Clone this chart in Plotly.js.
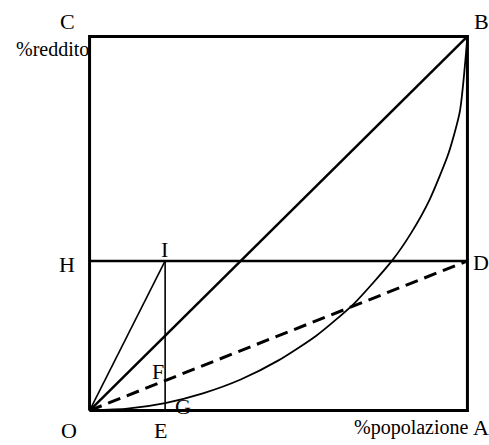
<!DOCTYPE html>
<html>
<head>
<meta charset="utf-8">
<script src="https://cdn.plot.ly/plotly-3.0.1.min.js"></script>
<style>html,body{margin:0;padding:0;background:#fff;}#chart{width:489px;height:445px;}</style>
</head>
<body>
<div id="chart"></div>
<script>
// Frame (square O-A-B-C)
const frameX = [0, 1, 1, 0, 0];
const frameY = [0, 0, 1, 1, 0];
// Line of equality O-B
const diagX = [0, 1];
const diagY = [0, 1];
// Horizontal line H-D
const hdX = [0, 1];
const hdY = [0.4, 0.4];
// Segment O-I
const oiX = [0, 0.2];
const oiY = [0, 0.4];
// Vertical segment E-I
const eiX = [0.2, 0.2];
const eiY = [0, 0.4];
// Dashed line O-D
const odX = [0, 1];
const odY = [0, 0.4];
// Lorenz curve O-G-B
const curveX = [0, 0.1, 0.2, 0.3, 0.4, 0.5, 0.6, 0.7, 0.8, 0.85, 0.9, 0.95, 0.98, 1];
const curveY = [0, 0.005, 0.02, 0.046, 0.083, 0.134, 0.2, 0.286, 0.4, 0.473, 0.564, 0.688, 0.8, 1];
// Labels
const labelText = ['C', 'B', 'H', 'I', 'D', 'F', 'G', 'O', 'E', 'A'];
const labelPx = [68, 481, 67, 165, 481, 158, 183, 69, 161, 481];
const labelPy = [21, 21, 265, 250, 263, 372, 407, 431, 431, 428];

const PAD = 0.02;
const L = 90 - PAD * 377, R = 489 - (467 + PAD * 377);
const T = 36 - PAD * 375, B = 445 - (411 + PAD * 375);
const PW = 489 - L - R, PH = 445 - T - B;
function px2paper(p) { return (p - L) / PW; }
function py2paper(p) { return (445 - B - p) / PH; }

const blk = '#000';
const traces = [
  {x: frameX, y: frameY, mode: 'lines', line: {color: blk, width: 3}},
  {x: diagX, y: diagY, mode: 'lines', line: {color: blk, width: 2.5}},
  {x: hdX, y: hdY, mode: 'lines', line: {color: blk, width: 2.5}},
  {x: oiX, y: oiY, mode: 'lines', line: {color: blk, width: 1.6}},
  {x: eiX, y: eiY, mode: 'lines', line: {color: blk, width: 1.6}},
  {x: odX, y: odY, mode: 'lines', line: {color: blk, width: 3, dash: '13px,7px'}},
  {x: curveX, y: curveY, mode: 'lines', line: {color: blk, width: 1.8, shape: 'spline', smoothing: 0.6}}
].map(t => Object.assign({type: 'scatter', hoverinfo: 'skip', showlegend: false}, t));

const fam = 'Liberation Serif';
const font = {family: fam, size: 22, color: blk};
const annotations = labelText.map((t, i) => ({
  text: t, x: px2paper(labelPx[i]), y: py2paper(labelPy[i]), xref: 'paper', yref: 'paper',
  showarrow: false, xanchor: 'center', yanchor: 'middle', borderpad: 0, font: font
}));
annotations.push({text: '%reddito', x: px2paper(90), y: py2paper(49), xref: 'paper', yref: 'paper',
  showarrow: false, xanchor: 'right', yanchor: 'middle', borderpad: 0,
  font: {family: fam, size: 20, color: blk}});
annotations.push({text: '%popolazione', x: px2paper(411), y: py2paper(428), xref: 'paper', yref: 'paper',
  showarrow: false, xanchor: 'center', yanchor: 'middle', borderpad: 0,
  font: {family: fam, size: 20, color: blk}});

const ax = {range: [-PAD, 1 + PAD], showgrid: false, zeroline: false, showline: false,
  showticklabels: false, ticks: '', fixedrange: true};

Plotly.newPlot('chart', traces, {
  width: 489, height: 445,
  margin: {l: L, r: R, t: T, b: B, pad: 0},
  font: {family: fam, color: blk},
  paper_bgcolor: '#fff', plot_bgcolor: '#fff',
  xaxis: ax, yaxis: Object.assign({}, ax),
  annotations: annotations,
  showlegend: false
}, {displayModeBar: false, staticPlot: true});
</script>
</body>
</html>
